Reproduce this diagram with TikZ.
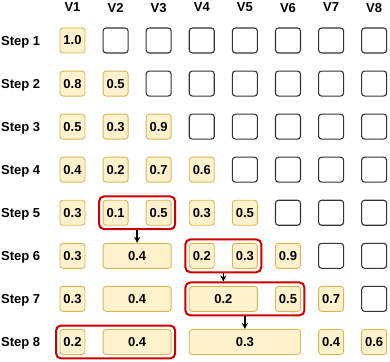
\documentclass[tikz,border=0pt]{standalone}
\usepackage{fontspec}
\setmainfont{Liberation Sans}
\usetikzlibrary{fit,arrows.meta}

\definecolor{cellfill}{HTML}{FFF2CC}
\definecolor{celldraw}{HTML}{D6B656}
\definecolor{grpred}{HTML}{CC0000}

\tikzset{
  cell/.style={rounded corners=3pt, minimum width=25pt, minimum height=25pt,
    inner sep=0pt, font=\fontsize{13}{15}\selectfont\bfseries},
  val/.style={cell, fill=cellfill, draw=celldraw, line width=0.9pt},
  blank/.style={cell, fill=white, draw=black!80, line width=1.1pt},
  grp/.style={draw=grpred, line width=2pt, rounded corners=5pt, inner sep=3.5pt},
  lbl/.style={font=\fontsize{13}{15}\selectfont\bfseries, inner sep=0pt, text depth=0pt},
  arr/.style={-{Stealth[length=6pt,width=6pt]}, line width=1.3pt},
}

\begin{document}
\begin{tikzpicture}[x=43.1pt, y=-43.07pt]
  \useasboundingbox (-0.682,0.06) rectangle (8.367,8.465);

  % headers and step labels
  \foreach \i in {1,...,8} {
    \node[lbl] (h\i) at (\i,0.234) {V\i};
    \node[lbl, anchor=west] (s\i) at (-0.659,\i) {Step \i};
  }

  % empty slots
  \foreach \j in {1,...,7} {
    \pgfmathtruncatemacro{\first}{\j+1}
    \foreach \i in {\first,...,8}
      \node[blank] (e\j-\i) at (\i,\j) {};
  }

  % single values
  \foreach \j/\i/\v in {1/1/1.0, 2/1/0.8, 2/2/0.5, 3/1/0.5, 3/2/0.3, 3/3/0.9,
      4/1/0.4, 4/2/0.2, 4/3/0.7, 4/4/0.6, 5/1/0.3, 5/2/0.1, 5/3/0.5, 5/4/0.3,
      5/5/0.5, 6/1/0.3, 6/4/0.2, 6/5/0.3, 6/6/0.9, 7/1/0.3, 7/6/0.5, 7/7/0.7,
      8/1/0.2, 8/7/0.4, 8/8/0.6}
    \node[val] (v\j-\i) at (\i,\j) {\v};

  % merged values
  \node[val, minimum width=68.1pt] (w6) at (2.5,6) {0.4};
  \node[val, minimum width=68.1pt] (w7a) at (2.5,7) {0.4};
  \node[val, minimum width=68.1pt] (w7b) at (4.5,7) {0.2};
  \node[val, minimum width=68.1pt] (w8a) at (2.5,8) {0.4};
  \node[val, minimum width=111.2pt] (w8b) at (5,8) {0.3};

  % merge groups
  \node[grp, fit=(v5-2)(v5-3)] (g5) {};
  \node[grp, fit=(v6-4)(v6-5)] (g6) {};
  \node[grp, fit=(w7b)(v7-6)] (g7) {};
  \node[grp, fit=(v8-1)(w8a)] (g8) {};

  \draw[arr] (g5.south) -- (w6.north);
  \draw[arr] (g6.south) -- (g6.south |- g7.north);
  \draw[arr] (g7.south) -- (w8b.north);
\end{tikzpicture}
\end{document}
